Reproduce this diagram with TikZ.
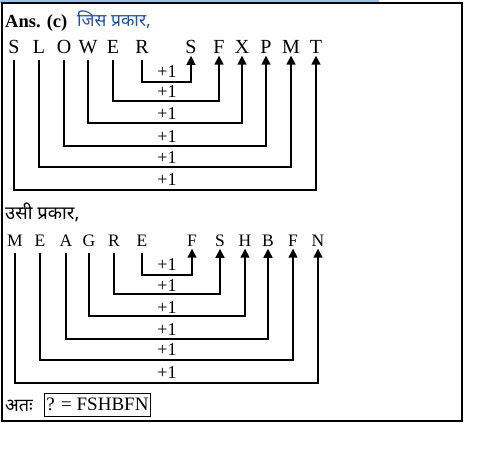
\documentclass[tikz,border=0pt]{standalone}
\usepackage{fontspec}
\setmainfont{Liberation Serif}
\newfontfamily\deva[Script=Devanagari]{Noto Sans}
\usetikzlibrary{arrows.meta}
\definecolor{barblue}{RGB}{155,194,230}
\definecolor{hblue}{RGB}{30,80,170}
\tikzset{
  letA/.style={anchor=base,inner xsep=0pt,inner ysep=2.5pt,font=\fontsize{20}{20}\selectfont},
  letB/.style={anchor=base,inner xsep=0pt,inner ysep=2.5pt,font=\fontsize{17.5}{17.5}\selectfont},
  plus/.style={inner sep=0pt,font=\fontsize{18}{18}\selectfont},
  conn/.style={line width=1.6pt,shorten <=4pt,-{Triangle[width=9pt,length=9pt]}},
  lbl/.style={anchor=base west,inner sep=0pt}
}
\begin{document}
\begin{tikzpicture}[x=1pt,y=-1pt]
\useasboundingbox (0,0) rectangle (494,450);
\fill[barblue] (0,0) rectangle (379,2.5);
\draw[line width=1.1pt] (2,3) rectangle (462,421);
% header
\node[lbl,font=\fontsize{18.5}{18.5}\selectfont\bfseries] (ans) at (5,27) {Ans. (c)};
\node[lbl,font=\fontsize{17.5}{17.5}\deva,text=hblue] (jis) at (77,26) {जिस प्रकार,};
% top row
\node[letA] (a1) at (14,53) {S};
\node[letA] (a2) at (39,53) {L};
\node[letA] (a3) at (64,53) {O};
\node[letA] (a4) at (88,53) {W};
\node[letA] (a5) at (113,53) {E};
\node[letA] (a6) at (142,53) {R};
\node[letA] (b1) at (191,53) {S};
\node[letA] (b2) at (219,53) {F};
\node[letA] (b3) at (242,53) {X};
\node[letA] (b4) at (266,53) {P};
\node[letA] (b5) at (291,53) {M};
\node[letA] (b6) at (316,53) {T};
\coordinate (t1) at (0,82);
\coordinate (t2) at (0,101);
\coordinate (t3) at (0,123);
\coordinate (t4) at (0,146);
\coordinate (t5) at (0,167);
\coordinate (t6) at (0,190);
\draw[conn] (a6.south) -- (a6.south |- t1) -| (b1.south);
\draw[conn] (a5.south) -- (a5.south |- t2) -| (b2.south);
\draw[conn] (a4.south) -- (a4.south |- t3) -| (b3.south);
\draw[conn] (a3.south) -- (a3.south |- t4) -| (b4.south);
\draw[conn] (a2.south) -- (a2.south |- t5) -| (b5.south);
\draw[conn] (a1.south) -- (a1.south |- t6) -| (b6.south);
\node[plus] (p1) at (167,72) {+1};
\node[plus] (p2) at (167,92) {+1};
\node[plus] (p3) at (167,114) {+1};
\node[plus] (p4) at (167,137) {+1};
\node[plus] (p5) at (167,158) {+1};
\node[plus] (p6) at (167,180) {+1};
% second header
\node[lbl,font=\fontsize{18.5}{18.5}\deva] (usi) at (5,219) {उसी प्रकार,};
% bottom row
\node[letB] (c1) at (15,246) {M};
\node[letB] (c2) at (40,246) {E};
\node[letB] (c3) at (66,246) {A};
\node[letB] (c4) at (89,246) {G};
\node[letB] (c5) at (114,246) {R};
\node[letB] (c6) at (142,246) {E};
\node[letB] (d1) at (192,246) {F};
\node[letB] (d2) at (220,246) {S};
\node[letB] (d3) at (245,246) {H};
\node[letB] (d4) at (268,246) {B};
\node[letB] (d5) at (293,246) {F};
\node[letB] (d6) at (318,246) {N};
\coordinate (u1) at (0,275);
\coordinate (u2) at (0,294);
\coordinate (u3) at (0,316);
\coordinate (u4) at (0,339);
\coordinate (u5) at (0,360);
\coordinate (u6) at (0,383);
\draw[conn] (c6.south) -- (c6.south |- u1) -| (d1.south);
\draw[conn] (c5.south) -- (c5.south |- u2) -| (d2.south);
\draw[conn] (c4.south) -- (c4.south |- u3) -| (d3.south);
\draw[conn] (c3.south) -- (c3.south |- u4) -| (d4.south);
\draw[conn] (c2.south) -- (c2.south |- u5) -| (d5.south);
\draw[conn] (c1.south) -- (c1.south |- u6) -| (d6.south);
\node[plus] (q1) at (167,265) {+1};
\node[plus] (q2) at (167,286) {+1};
\node[plus] (q3) at (167,308) {+1};
\node[plus] (q4) at (167,330) {+1};
\node[plus] (q5) at (167,350) {+1};
\node[plus] (q6) at (167,373) {+1};
% answer
\node[lbl,font=\fontsize{18}{18}\deva] (ata) at (5,411) {अतः};
\node[draw,line width=0.9pt,anchor=west,inner xsep=2pt,inner ysep=3pt,minimum height=23pt,font=\fontsize{19}{19}\selectfont] (res) at (44,404.5) {? = FSHBFN};
\end{tikzpicture}
\end{document}
